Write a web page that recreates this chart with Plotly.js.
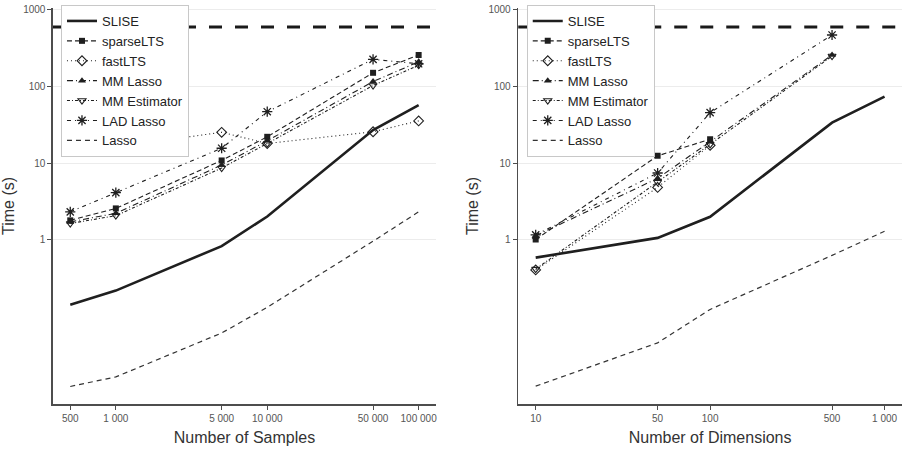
<!DOCTYPE html>
<html>
<head>
<meta charset="utf-8">
<script src="https://cdn.plot.ly/plotly-3.0.1.min.js"></script>
<style>
  html, body { margin: 0; padding: 0; background: #ffffff; }
  #chart { width: 905px; height: 452px; }
</style>
</head>
<body>
<div id="chart"></div>
<script>
// Run time (seconds) of each regression method, log-log scale.
// Left panel: varying number of samples; right panel: varying number of dimensions.

const samples = [500, 1000, 5000, 10000, 50000, 100000];
const samplesTickText = ["500", "1 000", "5 000", "10 000", "50 000", "100 000"];
const dims = [10, 50, 100, 500, 1000];
const dimsTickText = ["10", "50", "100", "500", "1 000"];
const timeTicks = [1, 10, 100, 1000];
const timeTickText = ["1", "10", "100", "1000"];
const timeoutSeconds = 600;

const methodNames = ["SLISE", "sparseLTS", "fastLTS", "MM Lasso", "MM Estimator", "LAD Lasso", "Lasso"];

// Time vs number of samples
const sliseBySamples      = [0.14, 0.215, 0.82, 2.0, 27, 57];
const sparseLTSBySamples  = [1.78, 2.55, 10.8, 22, 151, 258];
const fastLTSBySamples    = [18.4, 16.2, 25.2, 18, 25.6, 35.5];
const mmLassoBySamples    = [1.7, 2.2, 9.4, 19.5, 116, 210];
const mmEstBySamples      = [1.62, 2.05, 8.6, 18, 103, 190];
const ladLassoBySamples   = [2.3, 4.1, 15.6, 46.8, 226, 198];
const lassoBySamples      = [0.012, 0.016, 0.06, 0.13, 0.95, 2.3];

// Time vs number of dimensions (missing points hit the time limit)
const sliseByDims     = [0.58, 1.05, 1.98, 33.7, 73.6];
const sparseLTSByDims = [1.0, 12.4, 20.5];
const fastLTSByDims   = [0.40, 4.8, 17];
const mmLassoByDims   = [1.12, 6.3, 19, 258];
const mmEstByDims     = [0.41, 5.6, 17.5, 250];
const ladLassoByDims  = [1.15, 7.4, 45.5, 471];
const lassoByDims     = [0.0121, 0.0446, 0.122, 0.62, 1.28];

const INK = "#1f1f1f";
const styles = [
  { line: { color: INK, width: 2.6, dash: "solid" }, mode: "lines" },
  { line: { color: INK, width: 1.1, dash: "5px,3px" }, mode: "lines+markers",
    marker: { symbol: "square", size: 6, color: INK, line: { color: INK, width: 0 } } },
  { line: { color: INK, width: 1.1, dash: "1px,3px" }, mode: "lines+markers",
    marker: { symbol: "diamond-open", size: 7.5, color: INK, line: { color: INK, width: 1.1 } } },
  { line: { color: INK, width: 1.1, dash: "6px,3px,1px,3px" }, mode: "lines+markers",
    marker: { symbol: "triangle-up", size: 7, color: INK, line: { color: INK, width: 0 } } },
  { line: { color: INK, width: 1.1, dash: "3px,2px,1px,2px" }, mode: "lines+markers",
    marker: { symbol: "triangle-down-open", size: 7, color: INK, line: { color: INK, width: 1.1 } } },
  { line: { color: INK, width: 1.1, dash: "4px,4px,1px,4px" }, mode: "lines+markers",
    marker: { symbol: "asterisk-open", size: 8.5, color: INK, line: { color: INK, width: 1.3 } } },
  { line: { color: "#333333", width: 1.2, dash: "5px,4px" }, mode: "lines" }
];

function buildTraces(xs, seriesList, xa, ya, legendId) {
  return seriesList.map(function (ys, i) {
    const t = {
      type: "scatter",
      name: methodNames[i],
      x: xs.slice(0, ys.length),
      y: ys,
      mode: styles[i].mode,
      line: styles[i].line,
      xaxis: xa,
      yaxis: ya,
      legend: legendId,
      hoverinfo: "x+y+name"
    };
    if (styles[i].marker) t.marker = styles[i].marker;
    return t;
  });
}

const traces = []
  .concat(buildTraces(samples,
    [sliseBySamples, sparseLTSBySamples, fastLTSBySamples, mmLassoBySamples,
     mmEstBySamples, ladLassoBySamples, lassoBySamples], "x", "y", "legend"))
  .concat(buildTraces(dims,
    [sliseByDims, sparseLTSByDims, fastLTSByDims, mmLassoByDims,
     mmEstByDims, ladLassoByDims, lassoByDims], "x2", "y2", "legend2"));

const FONT = "Liberation Sans, Arial, Helvetica, sans-serif";
const AXIS_COLOR = "#4d4d4d";

function xAxis(domain, range, vals, text, title) {
  return {
    domain: domain, type: "log", range: range,
    tickvals: vals, ticktext: text,
    showline: true, linecolor: AXIS_COLOR, linewidth: 1.6, mirror: false,
    ticks: "outside", ticklen: 4, tickwidth: 1, tickcolor: AXIS_COLOR,
    showgrid: false, zeroline: false, automargin: false,
    tickfont: { family: FONT, size: 10, color: "#555555" },
    title: { text: title, font: { family: FONT, size: 16, color: "#333333" }, standoff: 9 }
  };
}

function yAxis(anchor) {
  return {
    anchor: anchor, domain: [0, 1], type: "log", range: [-2.15, 3.026],
    tickvals: timeTicks, ticktext: timeTickText,
    showline: true, linecolor: AXIS_COLOR, linewidth: 1.6,
    ticks: "outside", ticklen: 4, tickwidth: 1, tickcolor: AXIS_COLOR,
    showgrid: true, gridcolor: "#ececec", gridwidth: 1,
    zeroline: false, automargin: false,
    tickfont: { family: FONT, size: 10, color: "#555555" },
    title: { text: "Time (s)", font: { family: FONT, size: 16, color: "#333333" }, standoff: 6 }
  };
}

function legendBox(x) {
  return {
    x: x, y: 1.0076, xanchor: "left", yanchor: "top",
    bgcolor: "#ffffff", bordercolor: "#c8c8c8", borderwidth: 1,
    font: { family: FONT, size: 13, color: "#222222" },
    itemwidth: 30, tracegroupgap: 0
  };
}

function timeoutLine(xref, yref) {
  return {
    type: "line", xref: xref, x0: 0, x1: 1, yref: yref, y0: timeoutSeconds, y1: timeoutSeconds,
    line: { color: "#1a1a1a", width: 3, dash: "13px,13px" }, layer: "above"
  };
}

const layout = {
  width: 905, height: 452,
  margin: { l: 53, r: 3, t: 8, b: 48 },
  paper_bgcolor: "#ffffff", plot_bgcolor: "#ffffff",
  font: { family: FONT, color: "#333333" },
  showlegend: true,
  xaxis: Object.assign(xAxis([0, 0.451], [2.585, 5.114], samples, samplesTickText, "Number of Samples"), { anchor: "y" }),
  yaxis: yAxis("x"),
  xaxis2: Object.assign(xAxis([0.548, 1], [0.9, 3.1], dims, dimsTickText, "Number of Dimensions"), { anchor: "y2" }),
  yaxis2: yAxis("x2"),
  legend: legendBox(0.0094),
  legend2: legendBox(0.558),
  shapes: [timeoutLine("x domain", "y"), timeoutLine("x2 domain", "y2")]
};

Plotly.newPlot("chart", traces, layout, { staticPlot: true, displayModeBar: false });
</script>
</body>
</html>
